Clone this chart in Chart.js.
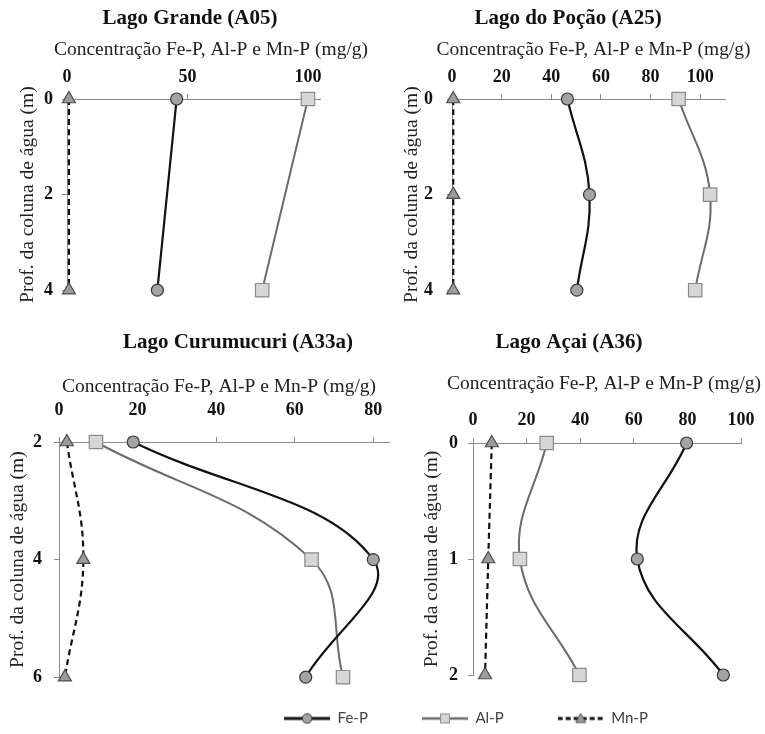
<!DOCTYPE html>
<html>
<head>
<meta charset="utf-8">
<script src="https://cdn.jsdelivr.net/npm/chart.js@4.4.1/dist/chart.umd.min.js"></script>
<style>
  html, body { margin: 0; padding: 0; background: #fff; }
  #wrap { position: relative; width: 765px; height: 734px; overflow: hidden; background: #fff; }
  #wrap canvas { position: absolute; }
</style>
</head>
<body>
<div id="wrap">
  <canvas id="pA05" width="380" height="310" style="left:0px;top:0px"></canvas>
  <canvas id="pA25" width="376" height="315" style="left:380px;top:0px"></canvas>
  <canvas id="pA33a" width="476" height="380" style="left:0px;top:320px"></canvas>
  <canvas id="pA36" width="392" height="380" style="left:373px;top:320px"></canvas>
  <canvas id="legend" width="610" height="170" style="left:161px;top:657px"></canvas>
</div>
<script>
// Depth (m) and phosphorus fractions (mg/g) for each lake
const depthA05 = [0, 4];
const feA05 = [45.5, 37.5];
const alA05 = [100, 81];
const mnA05 = [0.8, 0.8];

const depthA25 = [0, 2, 4];
const feA25 = [46.5, 55.4, 50.3];
const alA25 = [91.3, 104, 98];
const mnA25 = [0.5, 0.5, 0.5];

const depthA33a = [2, 4, 6];
const feA33a = [18.9, 80, 62.8];
const alA33a = [9.4, 64.3, 72.3];
const mnA33a = [2, 6.2, 1.5];

const depthA36 = [0, 1, 2];
const feA36 = [79.7, 61.3, 93.4];
const alA36 = [27.5, 17.5, 39.7];
const mnA36 = [7, 5.7, 4.5];

const seriesNames = ['Fe-P', 'Al-P', 'Mn-P'];
const xAxisTitle = 'Concentração Fe-P, Al-P e Mn-P (mg/g)';
const yAxisTitle = 'Prof. da coluna de água (m)';

const SERIF = "'Liberation Serif', 'Times New Roman', serif";
const AXIS = '#8c8c8c';

const seriesStyle = {
  'Fe-P': { line: '#111111', width: 2.2, dash: [], point: 'circle', radius: 6, fill: '#a3a3a3', edge: '#3a3a3a' },
  'Al-P': { line: '#6b6b6b', width: 2.0, dash: [], point: 'rect', radius: 9.5, fill: '#d6d6d6', edge: '#8a8a8a' },
  'Mn-P': { line: '#111111', width: 2.2, dash: [6, 4], point: 'triangle', radius: 7.5, fill: '#9c9c9c', edge: '#4d4d4d' }
};

// Panel layout: canvas box, plot rectangle and caption centre (page coordinates), axis ranges, paddings
const panels = [
  { id: 'pA05', title: 'Lago Grande (A05)', depth: depthA05, values: [feA05, alA05, mnA05],
    box: { left: 0, top: 0, w: 380, h: 310 }, plot: { l: 67, t: 99, r: 320, b: 293 }, caption: { x: 211, y: 50 },
    x: { min: 0, max: 105, step: 50 }, y: { min: 0, max: 4, step: 2 },
    titlePad: 6.4, yTitlePad: 16.3, xTickPad: 6, yTickPad: 9 },
  { id: 'pA25', title: 'Lago do Poção (A25)', depth: depthA25, values: [feA25, alA25, mnA25],
    box: { left: 380, top: 0, w: 376, h: 315 }, plot: { l: 452, t: 99, r: 725, b: 302 }, caption: { x: 593.5, y: 50 },
    x: { min: 0, max: 110, step: 20 }, y: { min: 0, max: 4, step: 2 },
    titlePad: 6.4, yTitlePad: 20.3, xTickPad: 6, yTickPad: 14 },
  { id: 'pA33a', title: 'Lago Curumucuri (A33a)', depth: depthA33a, values: [feA33a, alA33a, mnA33a],
    box: { left: 0, top: 320, w: 476, h: 380 }, plot: { l: 59, t: 442, r: 389, b: 679 }, caption: { x: 219, y: 387 },
    x: { min: 0, max: 84, step: 20 }, y: { min: 2, max: 6, step: 2 },
    titlePad: 9.9, yTitlePad: 5.8, xTickPad: 16, yTickPad: 12 },
  { id: 'pA36', title: 'Lago Açai (A36)', depth: depthA36, values: [feA36, alA36, mnA36],
    box: { left: 373, top: 320, w: 392, h: 380 }, plot: { l: 473, t: 443, r: 741, b: 675 }, caption: { x: 604, y: 384 },
    x: { min: 0, max: 100, step: 20 }, y: { min: 0, max: 2, step: 1 },
    titlePad: 9.9, yTitlePad: 47.3, xTickPad: 7, yTickPad: 10 }
];

const TITLE_SIZE = 21, TICK_SIZE = 18, AXIS_TITLE_SIZE = 19.5;

// Draws the concentration caption above each top axis
const axisCaption = {
  id: 'axisCaption',
  afterDraw(chart, args, opts) {
    if (!opts || !opts.text) return;
    const ctx = chart.ctx;
    ctx.save();
    ctx.font = opts.size + 'px ' + SERIF;
    ctx.fillStyle = opts.color;
    ctx.textAlign = 'center';
    ctx.textBaseline = 'middle';
    ctx.fillText(opts.text, opts.x, opts.y);
    ctx.restore();
  }
};

function buildDatasets(p) {
  return seriesNames.map((name, k) => {
    const s = seriesStyle[name];
    return {
      label: name,
      data: p.depth.map((d, i) => ({ x: p.values[k][i], y: d })),
      showLine: true,
      tension: 0.4,
      borderColor: s.line,
      borderWidth: s.width,
      borderDash: s.dash,
      pointStyle: s.point,
      pointRadius: s.radius,
      pointBackgroundColor: s.fill,
      pointBorderColor: s.edge,
      pointBorderWidth: 1.2,
      clip: false
    };
  });
}

function axisCommon() {
  return {
    grid: { display: true, drawOnChartArea: false, drawTicks: true, tickLength: 5, color: AXIS, lineWidth: 1 },
    border: { display: true, color: AXIS, width: 1 }
  };
}

panels.forEach(p => {
  const titleBlock = p.titlePad + TITLE_SIZE * 1.2;
  new Chart(document.getElementById(p.id), {
    type: 'scatter',
    data: { datasets: buildDatasets(p) },
    plugins: [axisCaption],
    options: {
      responsive: false,
      animation: false,
      devicePixelRatio: 1,
      events: [],
      elements: { line: { capBezierPoints: false } },
      layout: { padding: { left: 0, top: 0, right: 0,
        bottom: p.box.top + p.box.h - p.plot.b } },
      plugins: {
        legend: { display: false },
        tooltip: { enabled: false },
        title: { display: true, text: p.title, color: '#111',
          font: { family: SERIF, size: TITLE_SIZE, weight: 'bold', lineHeight: 1.2 },
          padding: { top: p.titlePad, bottom: 0 } },
        axisCaption: { text: xAxisTitle, size: AXIS_TITLE_SIZE, color: '#222',
          x: p.caption.x - p.box.left, y: p.caption.y - p.box.top }
      },
      scales: {
        x: Object.assign(axisCommon(), {
          type: 'linear', position: 'top', min: p.x.min, max: p.x.max,
          ticks: { stepSize: p.x.step, includeBounds: false, padding: p.xTickPad, color: '#111',
            font: { family: SERIF, size: TICK_SIZE, weight: 'bold', lineHeight: 1.2 } },
          afterFit: s => { s.height = p.plot.t - p.box.top - titleBlock; }
        }),
        y: Object.assign(axisCommon(), {
          type: 'linear', position: 'left', reverse: true, min: p.y.min, max: p.y.max,
          ticks: { stepSize: p.y.step, includeBounds: false, padding: p.yTickPad, color: '#111',
            font: { family: SERIF, size: TICK_SIZE, weight: 'bold', lineHeight: 1.2 } },
          title: { display: true, text: yAxisTitle, color: '#222',
            font: { family: SERIF, size: AXIS_TITLE_SIZE, lineHeight: 1.2 },
            padding: { top: p.yTitlePad, bottom: 0 } },
          afterFit: s => { s.width = p.plot.l - p.box.left; }
        }),
        // empty right-hand margin so the plot ends where the axis ends
        margin: {
          type: 'linear', axis: 'y', position: 'right', display: true,
          ticks: { display: false }, grid: { display: false }, border: { display: false },
          afterFit: s => { s.width = p.box.left + p.box.w - p.plot.r; }
        }
      }
    }
  });
});

// Legend swatches: a short line segment with the series marker in its middle
function swatch(name) {
  const s = seriesStyle[name];
  const c = document.createElement('canvas');
  c.width = 46; c.height = 16;
  const g = c.getContext('2d');
  g.strokeStyle = s.line;
  g.lineWidth = s.width + 0.6;
  g.setLineDash(s.dash.length ? [5, 3] : []);
  g.beginPath(); g.moveTo(0, 8); g.lineTo(46, 8); g.stroke();
  g.setLineDash([]);
  g.fillStyle = s.fill; g.strokeStyle = s.edge; g.lineWidth = 1;
  g.beginPath();
  if (s.point === 'circle') g.arc(23, 8, 4.8, 0, Math.PI * 2);
  else if (s.point === 'rect') g.rect(18.5, 3.5, 9, 9);
  else { g.moveTo(23, 3); g.lineTo(28, 12); g.lineTo(18, 12); g.closePath(); }
  g.fill(); g.stroke();
  return c;
}

new Chart(document.getElementById('legend'), {
  type: 'scatter',
  data: { datasets: seriesNames.map(n => ({ label: n, data: [] })) },
  options: {
    responsive: false, animation: false, devicePixelRatio: 1, events: [],
    scales: { x: { display: false }, y: { display: false } },
    plugins: {
      tooltip: { enabled: false },
      legend: {
        display: true, position: 'top',
        labels: {
          usePointStyle: true, pointStyleWidth: 46, padding: 54,
          color: '#404040', font: { family: "Lato, 'Open Sans', sans-serif", size: 15 },
          generateLabels: chart => chart.data.datasets.map((d, i) => ({
            text: d.label, datasetIndex: i, hidden: false,
            pointStyle: swatch(d.label), fontColor: '#404040',
            fillStyle: 'rgba(0,0,0,0)', strokeStyle: 'rgba(0,0,0,0)', lineWidth: 0
          }))
        }
      }
    }
  }
});
</script>
</body>
</html>
